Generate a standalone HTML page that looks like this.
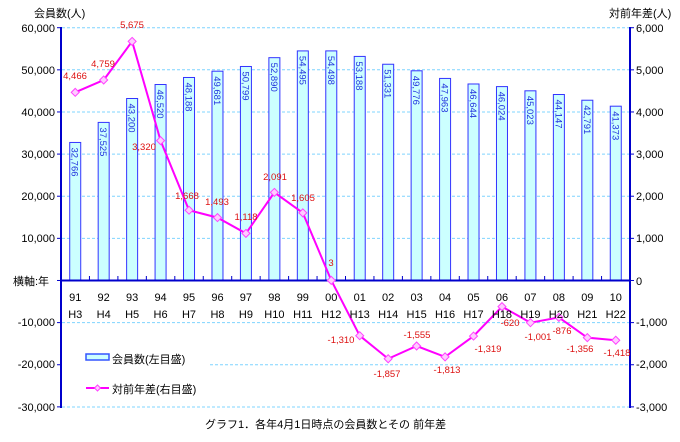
<!DOCTYPE html>
<html><head><meta charset="utf-8"><style>
body{margin:0;background:#fff}
text{font-family:"Liberation Sans","Noto Sans CJK JP",sans-serif}
</style></head><body>
<svg width="680" height="437" viewBox="0 0 680 437" xmlns="http://www.w3.org/2000/svg">
<g stroke="#7fd4ff" stroke-width="1" stroke-dasharray="3,2">
<line x1="62" y1="27.7" x2="630" y2="27.7"/>
<line x1="62" y1="69.8" x2="630" y2="69.8"/>
<line x1="62" y1="112" x2="630" y2="112"/>
<line x1="62" y1="154.1" x2="630" y2="154.1"/>
<line x1="62" y1="196.2" x2="630" y2="196.2"/>
<line x1="62" y1="238.4" x2="630" y2="238.4"/>
<line x1="62" y1="322.6" x2="630" y2="322.6"/>
<line x1="210" y1="364.8" x2="630" y2="364.8"/>
<line x1="62" y1="407" x2="630" y2="407"/>
</g>
<g id="bars" fill="#ccffff" stroke="#3333ff" stroke-width="1"></g>
<g id="blabels" fill="#2233dd" font-size="9.5"></g>
<g stroke="#0000cc" stroke-width="2" fill="none">
<line x1="61" y1="27" x2="61" y2="408"/>
<line x1="630" y1="27" x2="630" y2="408"/>
<line x1="61" y1="280.5" x2="630" y2="280.5"/>
</g>
<g id="ticks" stroke="#0000cc" stroke-width="1"></g>
<polyline id="line" fill="none" stroke="#ff00ff" stroke-width="2"/>
<g id="pts" fill="#ffccff" stroke="#ff44ff" stroke-width="1"></g>
<g id="llabels" fill="#dd1111" font-size="9.5" text-anchor="middle"></g>
<g font-size="11" fill="#000" text-anchor="end">
<text x="55" y="32">60,000</text><text x="55" y="74">50,000</text><text x="55" y="116">40,000</text>
<text x="55" y="158">30,000</text><text x="55" y="200">20,000</text><text x="55" y="242">10,000</text>
<text x="55" y="326">-10,000</text><text x="55" y="368">-20,000</text><text x="55" y="411">-30,000</text>
</g>
<g font-size="11" fill="#000">
<text x="636" y="32">6,000</text><text x="636" y="74">5,000</text><text x="636" y="116">4,000</text>
<text x="636" y="158">3,000</text><text x="636" y="200">2,000</text><text x="636" y="242">1,000</text>
<text x="636" y="285">0</text>
<text x="636" y="326">-1,000</text><text x="636" y="368">-2,000</text><text x="636" y="411">-3,000</text>
</g>
<text x="34" y="17" font-size="11">会員数(人)</text>
<text x="609" y="17" font-size="11">対前年差(人)</text>
<text x="13" y="285" font-size="11">横軸:年</text>
<g id="cats" font-family="Liberation Serif" font-size="11" text-anchor="middle"></g>
<rect x="86" y="354" width="23" height="6" fill="#ccffff" stroke="#3355ff" stroke-width="1.5"/>
<text x="112" y="363" font-size="11">会員数(左目盛)</text>
<line x1="86" y1="388" x2="109" y2="388" stroke="#ff00ff" stroke-width="2"/>
<path d="M97.5 385 L100.5 388 L97.5 391 L94.5 388Z" fill="#ffccff" stroke="#ff44ff"/>
<text x="112" y="393" font-size="11">対前年差(右目盛)</text>
<text x="205" y="428" font-size="11">グラフ1．各年4月1日時点の会員数とその 前年差</text>
</svg>
<script>
const ns="http://www.w3.org/2000/svg";
const bars=[32766,37525,43200,46520,48188,49681,50799,52890,54495,54498,53188,51331,49776,47963,46644,46024,45023,44147,42791,41373];
const d=[4466,4759,5675,3320,1668,1493,1118,2091,1605,3,-1310,-1857,-1555,-1813,-1319,-620,-1001,-876,-1356,-1418];
const lab=[[75,79],[103,67],[132,28],[144,150],[187,199],[217,205],[246,220],[275,180],[303,201],[331,266],[341,343],[387,377],[417,338],[447,373],[488,352],[510,326],[538,340],[562,334],[580,352],[617,356]];
const yrs=["91","92","93","94","95","96","97","98","99","00","01","02","03","04","05","06","07","08","09","10"];
const hs=["H3","H4","H5","H6","H7","H8","H9","H10","H11","H12","H13","H14","H15","H16","H17","H18","H19","H20","H21","H22"];
const Y=v=>280.5-v/10000*42.13, YR=v=>280.5-v/1000*42.13;
const cw=(630-61)/20;
function el(t,a,p,txt){const e=document.createElementNS(ns,t);for(const k in a)e.setAttribute(k,a[k]);if(txt)e.textContent=txt;document.getElementById(p).appendChild(e);return e;}
let pts=[];
const fmt=n=>(n<0?"-":"")+Math.abs(n).toLocaleString("en-US");
for(let i=0;i<20;i++){
 const cx=61+cw*(i+0.5);
 const y=Y(bars[i]);
 el("rect",{x:cx-5.5,y:y,width:11,height:280.5-y},"bars");
 el("text",{x:0,y:0,transform:`translate(${cx-3.5},${y+5}) rotate(90)`},"blabels",fmt(bars[i]));
 el("line",{x1:61+cw*(i+1),y1:276,x2:61+cw*(i+1),y2:280},"ticks");
 el("text",{x:cx,y:301},"cats",yrs[i]);
 el("text",{x:cx,y:318},"cats",hs[i]);
 const py=YR(d[i]);pts.push(cx+","+py);
 el("path",{d:`M${cx} ${py-4}L${cx+4} ${py}L${cx} ${py+4}L${cx-4} ${py}Z`},"pts");
 el("text",{x:lab[i][0],y:lab[i][1]},"llabels",fmt(d[i]));
}
for(let k=0;k<=9;k++){const y=27.7+k*42.13;el("line",{x1:57,y1:y,x2:61,y2:y},"ticks");el("line",{x1:630,y1:y,x2:634,y2:y},"ticks");}
document.getElementById("line").setAttribute("points",pts.join(" "));
</script>
</body></html>
